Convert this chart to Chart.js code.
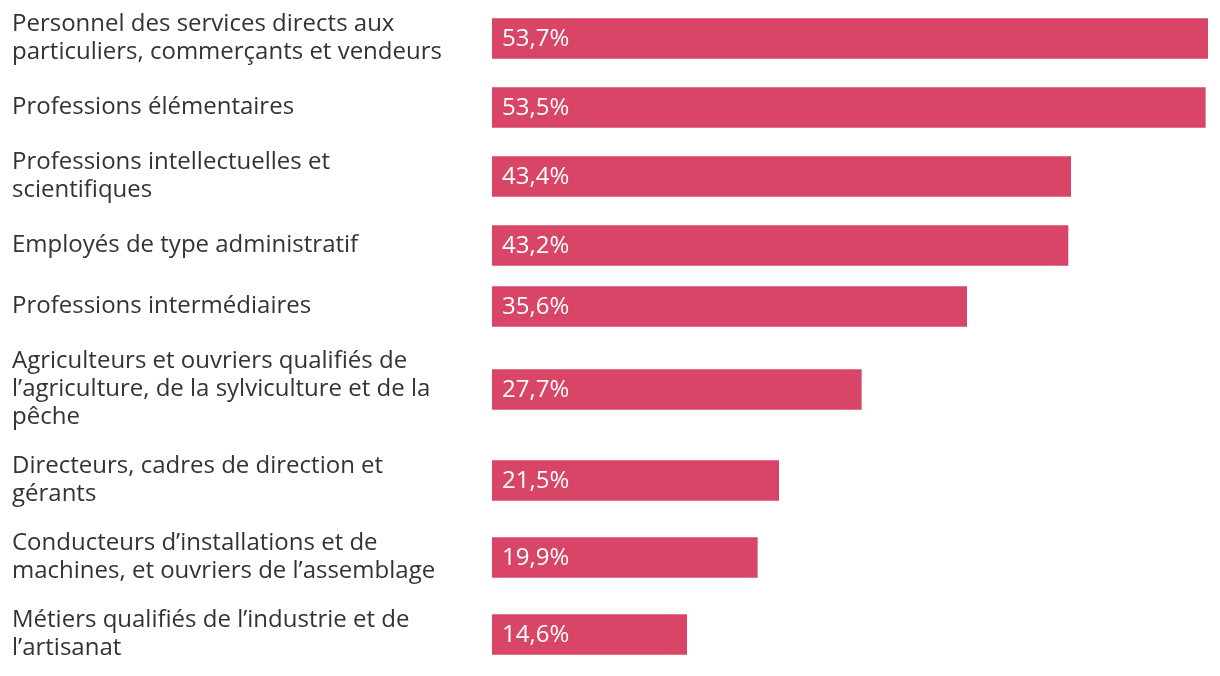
<!DOCTYPE html>
<html>
<head>
<meta charset="utf-8">
<script src="https://cdn.jsdelivr.net/npm/chart.js@4"></script>
<style>
    html, body { margin: 0; padding: 0; background: #fff; }
    .container { width: 1220px; height: 676px; position: relative; }
</style>
</head>
<body>
<div class="container"><canvas id="myChart"></canvas></div>
<script>
// data
const categories = [
    ['Personnel des services directs aux', 'particuliers, commerçants et vendeurs'],
    ['Professions élémentaires'],
    ['Professions intellectuelles et', 'scientifiques'],
    ['Employés de type administratif'],
    ['Professions intermédiaires'],
    ['Agriculteurs et ouvriers qualifiés de', 'l\u2019agriculture, de la sylviculture et de la', 'pêche'],
    ['Directeurs, cadres de direction et', 'gérants'],
    ['Conducteurs d\u2019installations et de', 'machines, et ouvriers de l\u2019assemblage'],
    ['Métiers qualifiés de l\u2019industrie et de', 'l\u2019artisanat']
];
const values = [53.7, 53.5, 43.4, 43.2, 35.6, 27.7, 21.5, 19.9, 14.6];

// row layout: a row is as tall as its label (or the bar) plus a gap
const lineHeight = 28;
const barHeight = 40;
const rowGap = 21;
let positions = [];
let total = 0;
categories.forEach(lines => {
    const h = Math.max(barHeight, lines.length * lineHeight) + rowGap;
    positions.push(total + h / 2);
    total += h;
});

const fontFamily = '"Open Sans", "Noto Sans", sans-serif';

// white value label inside each bar
const valueLabels = {
    id: 'valueLabels',
    afterDatasetsDraw(chart) {
        const ctx = chart.ctx;
        const meta = chart.getDatasetMeta(0);
        ctx.save();
        ctx.fillStyle = '#fff';
        ctx.font = '24px ' + fontFamily;
        ctx.textAlign = 'left';
        ctx.textBaseline = 'middle';
        meta.data.forEach((bar, i) => {
            ctx.fillText(values[i].toFixed(1).replace('.', ',') + '%', bar.base + 10, bar.y + 1);
        });
        ctx.restore();
    }
};

new Chart(document.querySelector('#myChart'), {
    type: 'bar',
    data: {
        datasets: [{
            data: values.map((v, i) => ({x: v, y: positions[i]})),
            backgroundColor: '#d84566',
            barThickness: barHeight,
            borderWidth: 0
        }]
    },
    options: {
        indexAxis: 'y',
        responsive: true,
        maintainAspectRatio: false,
        animation: false,
        layout: {
            padding: {left: 12, right: 12, top: 0, bottom: 676 - total}
        },
        scales: {
            x: {
                type: 'linear',
                min: 0,
                max: 53.7,
                display: false
            },
            y: {
                type: 'linear',
                reverse: true,
                offset: false,
                min: 0,
                max: total,
                grid: {display: false, offset: false},
                border: {display: false},
                afterBuildTicks: (scale) => {
                    scale.ticks = positions.map(p => ({value: p}));
                },
                afterFit: (scale) => {
                    scale.width = 480;
                    scale.paddingTop = 0;
                    scale.paddingBottom = 0;
                },
                ticks: {
                    autoSkip: false,
                    crossAlign: 'far',
                    padding: 0,
                    color: '#333',
                    font: {family: fontFamily, size: 24, lineHeight: lineHeight + 'px'},
                    callback: (value, index) => categories[index]
                }
            }
        },
        plugins: {
            legend: {display: false},
            tooltip: {enabled: false}
        }
    },
    plugins: [valueLabels]
});
</script>
</body>
</html>
